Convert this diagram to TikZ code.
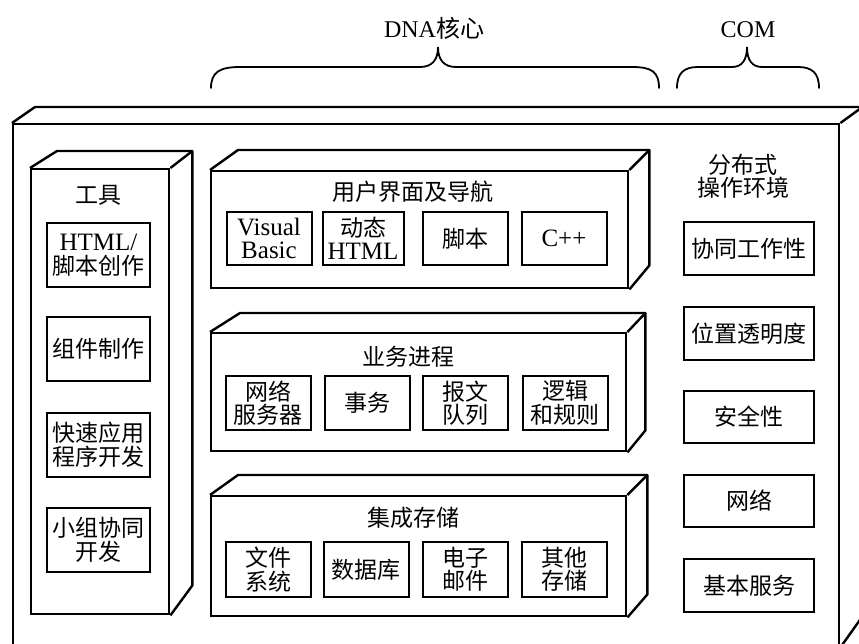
\documentclass[tikz,border=0pt]{standalone}
\usepackage{fontspec}
\setmainfont{Liberation Serif}
\newfontfamily\cjk{Noto Sans CJK SC}
\usetikzlibrary{calc}
\newcommand{\lat}{\fontsize{25}{23.5}\selectfont\rmfamily}
% name, dx left, dx right, dy top, dy bottom
\newcommand{\cubeside}[5]{%
  \draw[edge] (#1.north west) -- ++(#2,#4)
    -- ($(#1.north east)+(#3,#4)$) coordinate (#1-tr)
    -- ($(#1.south east)+(#3,#5)$) -- (#1.south east);
  \draw[edge] (#1.north east) -- (#1-tr);}
\tikzset{
  edge/.style={line width=2.4pt, line join=round},
  face/.style={draw, line width=2.4pt, anchor=north west, inner sep=0pt},
  item/.style={draw, line width=2pt, inner sep=0pt, align=center,
    font=\fontsize{23}{23.5}\selectfont\cjk},
  title/.style={align=center, inner sep=0pt, font=\fontsize{23}{23}\selectfont\cjk},
  brace/.style={line width=1.8pt, line cap=round},
  mid/.style={item, minimum width=85, minimum height=54},
  tool/.style={item, minimum width=103, minimum height=64},
  com/.style={item, minimum width=130, minimum height=53},
}
\begin{document}
\begin{tikzpicture}[x=1pt, y=-1pt]
\useasboundingbox (0,0) rectangle (859,644);

% top labels and braces
\node[title] (dna) at (434,28) {\fontsize{24}{24}\selectfont\rmfamily DNA\cjk 核心};
\node[title] (comlab) at (748,30) {\fontsize{24}{24}\selectfont\rmfamily COM};
\draw[brace] (211,88) .. controls (211,72) and (220,67) .. (240,67) -- (420,67)
  .. controls (432,67) and (438,60) .. (438,47)
  .. controls (438,60) and (444,67) .. (456,67) -- (632,67)
  .. controls (652,67) and (659,72) .. (659,88);
\draw[brace] (677,88) .. controls (677,73) and (684,67) .. (698,67) -- (732,67)
  .. controls (742,67) and (747,60) .. (747,47)
  .. controls (747,60) and (752,67) .. (762,67) -- (798,67)
  .. controls (812,67) and (819,73) .. (819,88);

% outer box
\node[face, minimum width=826, minimum height=522] (outer) at (12,123) {};
\cubeside{outer}{23}{22}{-16}{-31}

% tools column
\node[face, minimum width=138, minimum height=445] (tools) at (30,168) {};
\cubeside{tools}{27}{22}{-17}{-30}
\node[title] (toolst) at (98,195) {工具};
\node[tool] (html) at (98.5,255) {\lat HTML/\\\cjk 脚本创作};
\node[tool] (comp) at (98.5,348.5) {组件制作};
\node[tool] (rad) at (98.5,444.5) {快速应用\\程序开发};
\node[tool] (team) at (98.5,540) {小组协同\\开发};

% user interface
\node[face, minimum width=417, minimum height=117] (ui) at (210,170) {};
\cubeside{ui}{28}{20}{-20}{-24}
\node[title] (uit) at (413,192) {用户界面及导航};
\node[mid, minimum height=53] (vb) at (269,238.5) {\lat Visual\\\lat Basic};
\node[mid, minimum height=53, minimum width=81] (dhtml) at (363,238.5) {动态\\\lat HTML};
\node[mid, minimum height=53] (script) at (465,238.5) {脚本};
\node[mid, minimum height=53] (cpp) at (564,238.5) {\lat C++};

% business process
\node[face, minimum width=415, minimum height=118] (bp) at (210,332) {};
\cubeside{bp}{30}{18}{-19}{-22}
\node[title] (bpt) at (408,357) {业务进程};
\node[mid] (web) at (268,403) {网络\\服务器};
\node[mid] (trans) at (367,403) {事务};
\node[mid] (queue) at (465.5,403) {报文\\队列};
\node[mid] (logic) at (565,403) {逻辑\\和规则};

% integrated storage
\node[face, minimum width=415, minimum height=120] (st) at (210,495) {};
\cubeside{st}{28}{20}{-20}{-23}
\node[title] (stt) at (413,518) {集成存储};
\node[mid, minimum height=55] (fs) at (268,569.5) {文件\\系统};
\node[mid, minimum height=55] (db) at (366,569.5) {数据库};
\node[mid, minimum height=55] (mail) at (465,569.5) {电子\\邮件};
\node[mid, minimum height=55] (other) at (564,569.5) {其他\\存储};

% distributed environment
\node[title] (dist) at (743,176) {分布式\\操作环境};
\node[com] (coop) at (749,248.5) {协同工作性};
\node[com] (loc) at (749,333.5) {位置透明度};
\node[com, minimum height=52] (sec) at (749,417) {安全性};
\node[com, minimum height=52] (net) at (749,501) {网络};
\node[com] (base) at (749,585.5) {基本服务};
\end{tikzpicture}
\end{document}
